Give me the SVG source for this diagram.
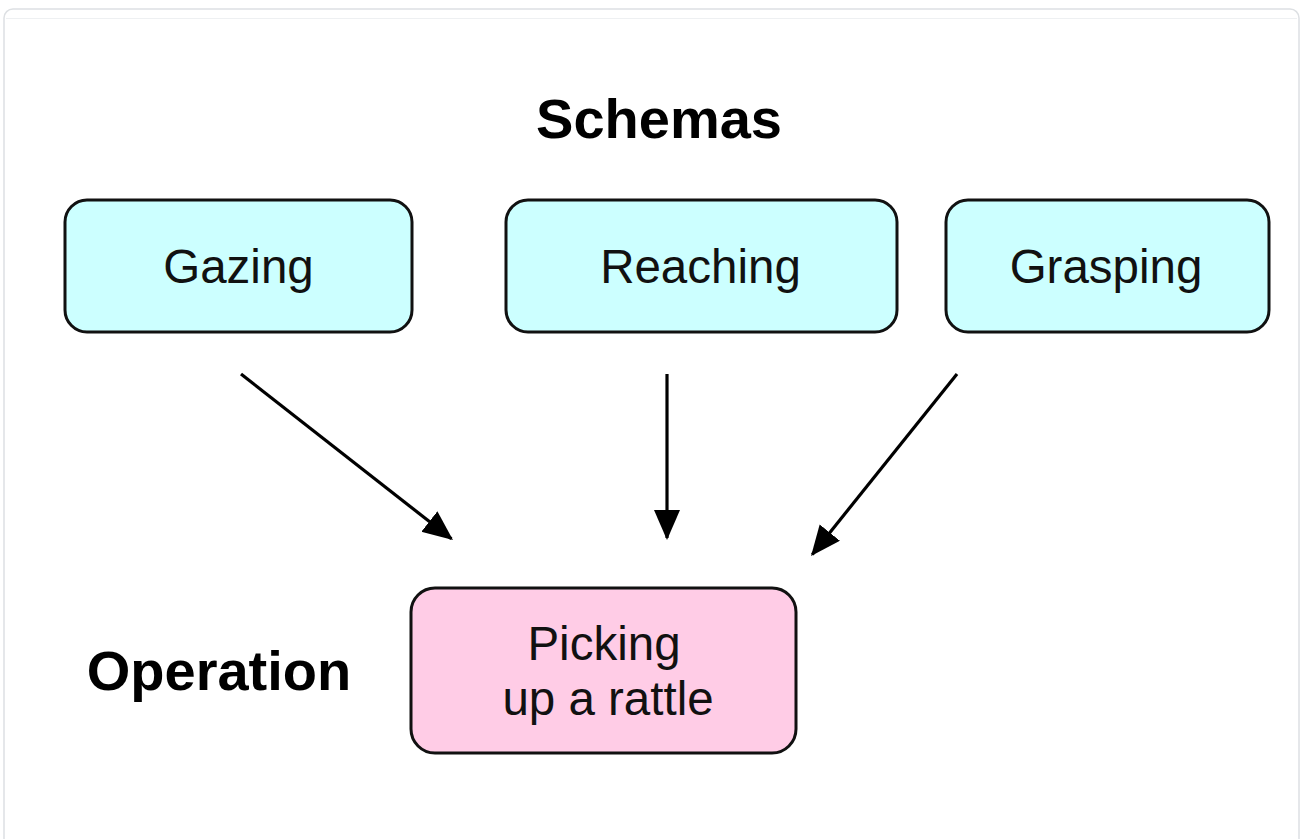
<svg xmlns="http://www.w3.org/2000/svg" width="1304" height="839" viewBox="0 0 1304 839">
<style>
.schema rect{fill:#ccffff;stroke:#111;stroke-width:3}
.op rect{fill:#ffcce6;stroke:#111;stroke-width:3}
.lbl{font-family:"Liberation Sans",Arial,sans-serif;font-size:47.5px;fill:#111;text-anchor:middle}
.title{font-family:"Liberation Sans",Arial,sans-serif;font-size:56px;font-weight:bold;fill:#000}
.conn line{stroke:#000;stroke-width:3.2;fill:none}
</style>
<defs>
<marker id="arr" markerUnits="userSpaceOnUse" markerWidth="32" markerHeight="28" refX="28" refY="13" orient="auto" viewBox="0 0 32 28">
<path d="M0,0 L30,13 L0,26 z" fill="#000"/>
</marker>
</defs>
<rect x="0" y="0" width="1304" height="839" fill="#fff"/>
<rect x="4" y="9" width="1295" height="850" rx="9" fill="#fff" stroke="#dde0e3" stroke-width="1.5"/>
<line x1="6" y1="18.5" x2="1297" y2="18.5" stroke="#eef0f2" stroke-width="1"/>
<text class="title" x="659" y="138" text-anchor="middle">Schemas</text>
<text class="title" x="219" y="690" text-anchor="middle">Operation</text>
<g id="gazing" class="schema">
<rect x="65" y="200" width="347" height="132" rx="22"/>
<text class="lbl" x="238.5" y="283">Gazing</text>
</g>
<g id="reaching" class="schema">
<rect x="506" y="200" width="391" height="132" rx="22"/>
<text class="lbl" x="700.5" y="283">Reaching</text>
</g>
<g id="grasping" class="schema">
<rect x="946" y="200" width="323" height="132" rx="22"/>
<text class="lbl" x="1106" y="283">Grasping</text>
</g>
<g id="picking" class="op">
<rect x="411" y="588" width="385" height="165" rx="24"/>
<text class="lbl" x="604" y="660">Picking</text>
<text class="lbl" x="608" y="715">up a rattle</text>
</g>
<g id="connectors" class="conn">
<line x1="241" y1="374" x2="451.4" y2="538.8" marker-end="url(#arr)"/>
<line x1="667" y1="374" x2="667" y2="538" marker-end="url(#arr)"/>
<line x1="957" y1="374" x2="812.3" y2="554.4" marker-end="url(#arr)"/>
</g>
</svg>
